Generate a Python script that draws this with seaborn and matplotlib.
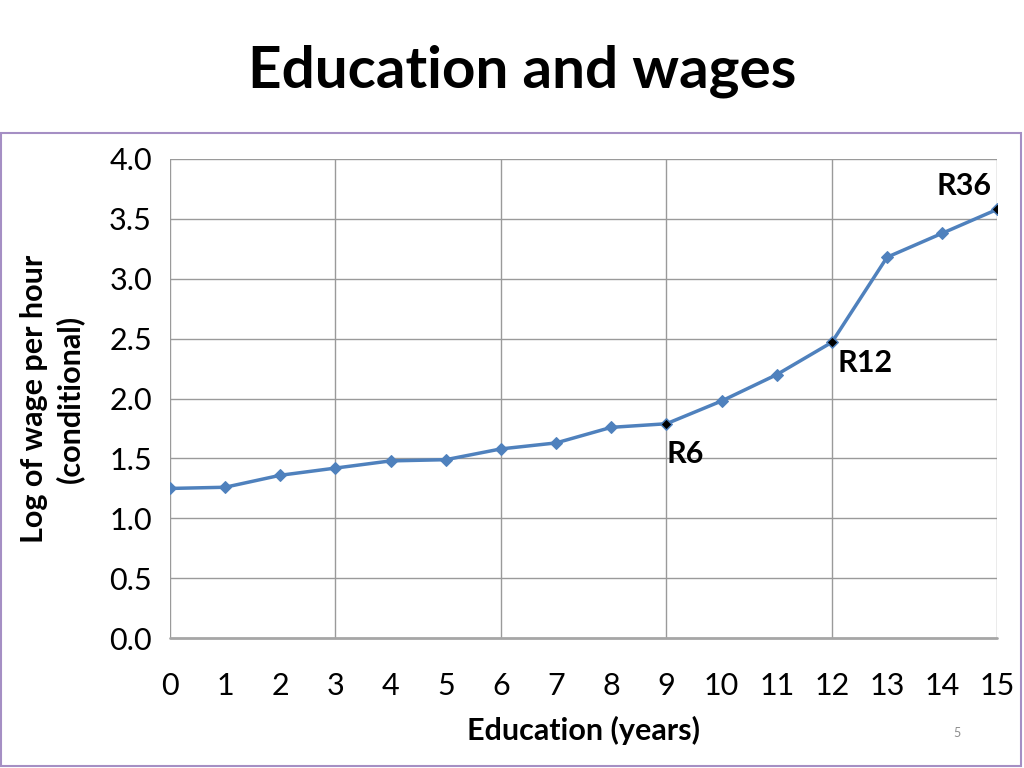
import pandas as pd
import matplotlib.pyplot as plt
import seaborn as sns
from matplotlib.patches import Rectangle

# data
years = list(range(16))
log_wage = [1.25, 1.26, 1.36, 1.42, 1.48, 1.49, 1.58, 1.63, 1.76, 1.79,
            1.98, 2.20, 2.47, 3.18, 3.38, 3.58]
marked_years = [9, 12, 15]
marked_labels = ["R6", "R12", "R36"]

df = pd.DataFrame({"years": years, "log_wage": log_wage})
marked = df[df["years"].isin(marked_years)].copy()
marked["label"] = marked_labels

sns.set_style("white")
plt.rcParams["font.family"] = ["Lato", "DejaVu Sans"]
plt.rcParams["text.color"] = "black"
plt.rcParams["xtick.color"] = "black"
plt.rcParams["ytick.color"] = "black"
plt.rcParams["axes.labelcolor"] = "black"

fig = plt.figure(figsize=(10.24, 7.68), dpi=100)
ax = fig.add_axes([0.166, 0.169, 0.808, 0.624])

blue = "#4f81bd"
sns.lineplot(data=df, x="years", y="log_wage", ax=ax, color=blue, linewidth=2.5,
             marker="D", markersize=6, markeredgecolor=blue)
sns.scatterplot(data=marked, x="years", y="log_wage", ax=ax, color="black",
                marker="D", s=22, linewidth=0, zorder=5)

# point labels
offsets = {"R6": (0, -12, "left", "top"), "R12": (4, -5, "left", "top"),
           "R36": (-4, 7, "right", "bottom")}
for _, row in marked.iterrows():
    dx, dy, ha, va = offsets[row["label"]]
    ax.annotate(row["label"], (row["years"], row["log_wage"]),
                xytext=(dx, dy), textcoords="offset points",
                ha=ha, va=va, fontsize=22, fontweight="bold")

ax.set_xlim(0, 15)
ax.set_ylim(0, 4)
ax.set_xticks(years)
ax.set_xticks([0, 3, 6, 9, 12, 15], minor=True)
ax.set_yticks([0, 0.5, 1, 1.5, 2, 2.5, 3, 3.5, 4])
ax.set_yticklabels([f"{v:.1f}" for v in ax.get_yticks()])
ax.grid(False)
for v in [0.5, 1, 1.5, 2, 2.5, 3, 3.5, 4]:
    ax.axhline(v, color="#9a9a9a", linewidth=1.0, zorder=0)
for v in [0, 3, 6, 9, 12, 15]:
    ax.axvline(v, color="#9a9a9a", linewidth=1.0, zorder=0)
ax.axhline(0, color="#a6a6a6", linewidth=2.0, zorder=0, clip_on=False)
for s in ax.spines.values():
    s.set_visible(False)

ax.tick_params(axis="x", which="major", length=0, pad=24, labelsize=22)
ax.tick_params(axis="x", which="minor", length=9, color="#9a9a9a", width=1.0)
ax.tick_params(axis="y", length=10, color="#9a9a9a", width=1.0, pad=3, labelsize=22)

ax.set_xlabel("Education (years)", fontsize=22, fontweight="bold", labelpad=12)
ax.set_ylabel("Log of wage per hour\n(conditional)", fontsize=22,
              fontweight="bold", labelpad=18, linespacing=1.3)

fig.text(0.51, 0.907, "Education and wages", ha="center", va="center",
         fontsize=42, fontweight="bold")
fig.text(0.935, 0.045, "5", ha="center", va="center", fontsize=9, color="#8c8c8c")

fig.patches.append(Rectangle((0.001, 0.002), 0.996, 0.825, transform=fig.transFigure,
                             fill=False, edgecolor="#a58fc4", linewidth=1.5))

plt.savefig("out.png", dpi=100)
